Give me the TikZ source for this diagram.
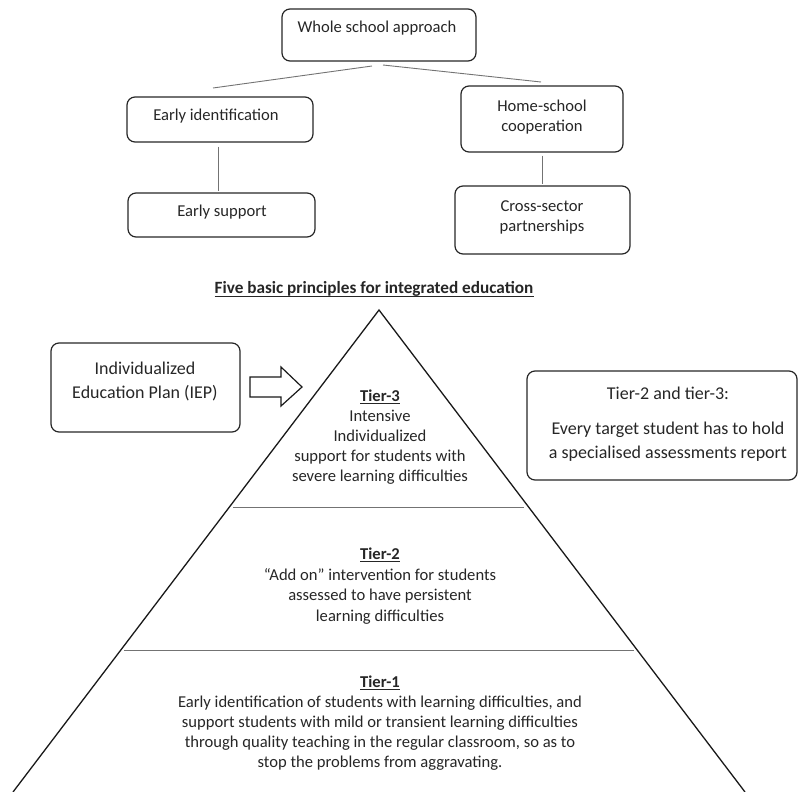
\documentclass[tikz,border=0pt]{standalone}
\usepackage{fontspec}
\setmainfont{Carlito}
\usetikzlibrary{calc}
\begin{document}
\begin{tikzpicture}[x=1pt,y=-1pt,
  frame/.style={draw=black!85, line width=1.2pt, rounded corners=8pt, inner sep=0pt},
  txt/.style={font=\fontsize{16.6}{20}\selectfont, text=black!85, align=center, inner sep=0pt},
  bigtxt/.style={font=\fontsize{18}{24}\selectfont, text=black!85, align=center, inner sep=0pt},
  link/.style={draw=black!55, line width=0.9pt},
  edge/.style={draw=black!90, line width=1.3pt},
  tierline/.style={draw=black!55, line width=1pt}]
\useasboundingbox (0,0) rectangle (798,792);

% --- tree of principles ---
\node[frame, minimum width=194pt, minimum height=52pt] (whole) at (379,35) {};
\node[txt] (wholet) at (377,28) {Whole school approach};

\node[frame, minimum width=186pt, minimum height=45pt] (eid) at (220,119.5) {};
\node[txt] (eidt) at (216,116) {Early identification};

\node[frame, minimum width=187pt, minimum height=44pt] (esup) at (221.5,215) {};
\node[txt] (esupt) at (222,212) {Early support};

\node[frame, minimum width=162pt, minimum height=66pt] (home) at (542,119) {};
\node[txt] (homet) at (542,117.5) {Home-school\\cooperation};

\node[frame, minimum width=175pt, minimum height=68pt] (cross) at (542.5,220) {};
\node[txt] (crosst) at (542,217.5) {Cross-sector\\partnerships};

\coordinate (wl) at (372,66);
\coordinate (wr) at (383,65);
\coordinate (eidtop) at (213,88);
\coordinate (hometop) at (541,82);
\draw[link] (wl) -- (eidtop);
\draw[link] (wr) -- (hometop);
\draw[link] ($(eid.south)+(-2,4)$) -- ($(esup.north)+(-3.5,-1)$);
\draw[link] ($(home.south)+(0,3)$) -- ($(cross.north)+(-0.5,-1)$);

% --- title ---
\node[txt, font=\fontsize{17.2}{20}\selectfont\bfseries] (title) at (374,289) {Five basic principles for integrated education};
\draw[black!85, line width=0.9pt] ($(title.base west)+(0,2.5)$) -- ($(title.base east)+(0,2.5)$);

% --- pyramid ---
\coordinate (apex) at (379,310);
\coordinate (bl) at (13,792);
\coordinate (br) at (745,792);
\draw[edge] (bl) -- (apex) -- (br);
\coordinate (s3l) at (233,507);
\coordinate (s3r) at (524,507);
\coordinate (s2l) at (124,650);
\coordinate (s2r) at (634,650);
\draw[tierline] (s3l) -- (s3r);
\draw[tierline] (s2l) -- (s2r);

\node[txt] (tier3) at (380,437) {\underline{\textbf{Tier-3}}\\Intensive\\Individualized\\support for students with\\severe learning difficulties};
\node[txt, font=\fontsize{16.6}{20.7}\selectfont] (tier2) at (380,586) {\underline{\textbf{Tier-2}}\\“Add on” intervention for students\\assessed to have persistent\\learning difficulties};
\node[txt] (tier1) at (380,723) {\underline{\textbf{Tier-1}}\\Early identification of students with learning difficulties, and\\support students with mild or transient learning difficulties\\through quality teaching in the regular classroom, so as to\\stop the problems from aggravating.};

% --- IEP box and block arrow ---
\node[frame, minimum width=189pt, minimum height=89pt] (iep) at (145.5,387.5) {};
\node[bigtxt] (iept) at (145,381) {Individualized\\Education Plan (IEP)};
\draw[edge, line width=1.2pt, line join=miter] (250,377) -- (281,377) -- (281,367) -- (302,387) -- (281,406) -- (281,397) -- (250,397) -- cycle;

% --- assessment note ---
\node[frame, minimum width=270pt, minimum height=109pt] (note) at (662,425.5) {};
\node[bigtxt] (notet) at (668,424.5) {Tier-2 and tier-3:\\[11pt]Every target student has to hold\\a specialised assessments report};
\end{tikzpicture}
\end{document}
